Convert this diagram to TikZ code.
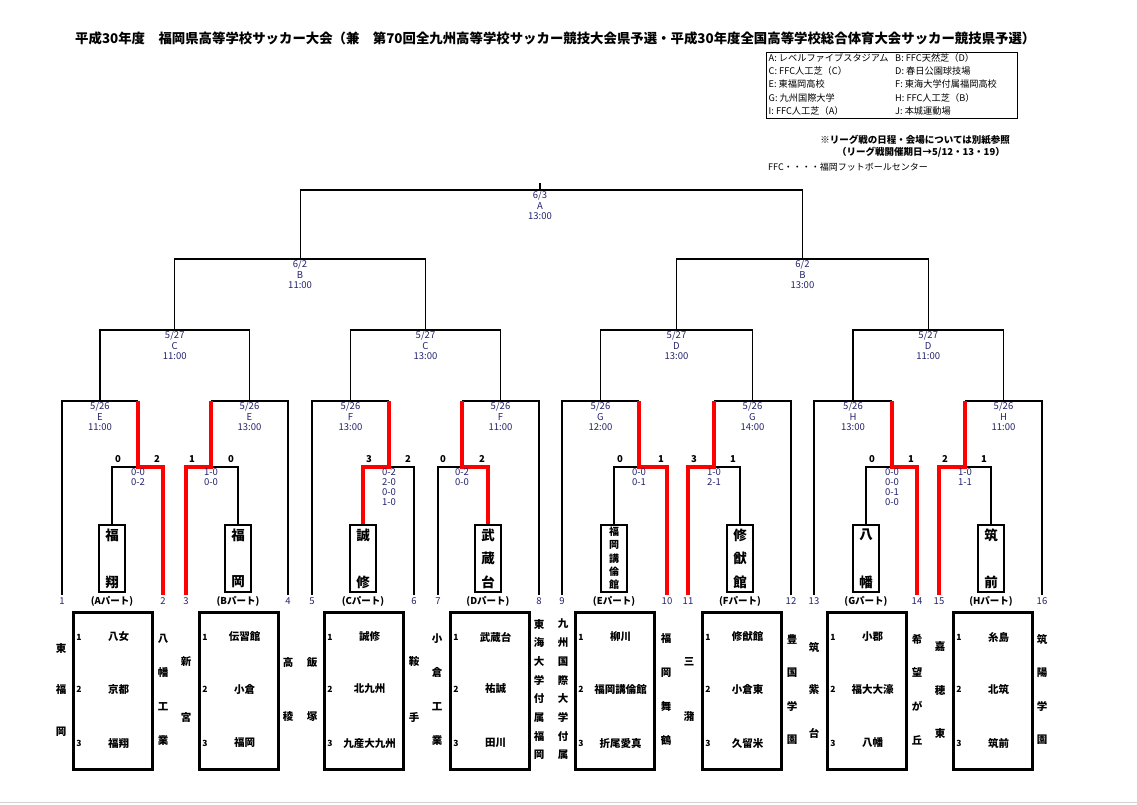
\documentclass[tikz,border=0pt]{standalone}
\usepackage{fontspec}
\setmainfont{Noto Sans CJK JP}
\usepackage{tikz}
\usetikzlibrary{positioning}

\definecolor{navy}{HTML}{23236B}
\definecolor{winred}{HTML}{FF0000}

\tikzset{
  bracket/.style={line width=1.1pt},
  winline/.style={line width=4pt, winred, line join=miter},
  matchlbl/.style={below, inner sep=1pt, align=center, text=navy, font=\fontsize{9.5}{10.5}\selectfont},
  detail/.style={below, inner sep=1pt, align=center, text=navy, font=\fontsize{9.5}{10}\selectfont},
  scorelbl/.style={inner sep=0pt, font=\bfseries\fontsize{9.5}{10}\selectfont},
  namebox/.style={draw, line width=2.6pt, minimum width=26pt, minimum height=67pt, inner sep=0pt},
  boxchar/.style={inner sep=0pt, font=\bfseries\fontsize{13.5}{13.5}\selectfont},
  smallchar/.style={inner sep=0pt, font=\bfseries\fontsize{10}{10}\selectfont},
  slotnum/.style={inner sep=0pt, text=navy, font=\fontsize{9.5}{10}\selectfont},
  partlbl/.style={inner sep=0pt, font=\bfseries\fontsize{9.5}{10}\selectfont},
  grpbox/.style={draw, line width=2.6pt, minimum width=79pt, minimum height=157pt, inner sep=0pt, anchor=north west},
  grpnum/.style={inner sep=0pt, font=\bfseries\fontsize{8.5}{9}\selectfont},
  grpname/.style={inner sep=0pt, font=\bfseries\fontsize{10.5}{11}\selectfont},
  vtxt/.style={inner sep=0pt, font=\bfseries\fontsize{10.5}{11}\selectfont},
  legtxt/.style={anchor=west, inner sep=0pt, font=\fontsize{9.2}{10}\selectfont},
  notetxt/.style={anchor=east, inner sep=0pt, font=\bfseries\fontsize{9.5}{10}\selectfont},
}
% vertical text: [style] name, x, first y, step, characters
\newcommand\vname[6][vtxt]{%
  \foreach \ch [count=\k from 0] in {#6}{\node[#1] (#2-\k) at (#3,#4+\k*#5) {\ch};}}

\begin{document}
\begin{tikzpicture}[x=1pt,y=-1pt]
\useasboundingbox (0,0) rectangle (1137,804);

% Title
\node[anchor=west, inner sep=0pt, font=\bfseries\fontsize{13.4}{14}\selectfont] (title) at (75,38)
  {平成30年度　福岡県高等学校サッカー大会（兼　第70回全九州高等学校サッカー競技大会県予選・平成30年度全国高等学校総合体育大会サッカー競技県予選）};

% Legend of grounds
\node[draw, line width=0.9pt, anchor=north west, minimum width=251pt, minimum height=66pt, inner sep=0pt] (legend) at (766,52) {};
\foreach \t [count=\i from 0] in {A: レベルファイブスタジアム, C: FFC人工芝（C）, E: 東福岡高校, G: 九州国際大学, I: FFC人工芝（A）}
  \node[legtxt] (legl\i) at (768.5,58+\i*13.2) {\t};
\foreach \t [count=\i from 0] in {B: FFC天然芝（D）, D: 春日公園球技場, F: 東海大学付属福岡高校, H: FFC人工芝（B）, J: 本城運動場}
  \node[legtxt] (legr\i) at (895,58+\i*13.2) {\t};

% Notes
\node[notetxt] (note1) at (1010,140) {※リーグ戦の日程・会場については別紙参照};
\node[notetxt] (note2) at (1005,152) {（リーグ戦開催期日→5/12・13・19）};
\node[legtxt, font=\fontsize{9}{10}\selectfont] (note3) at (768,167) {FFC・・・・福岡フットボールセンター};

% Slots 1-16
\foreach \n/\x in {1/62,2/163,3/186,4/288,5/312,6/414,7/438,8/539,9/562,10/667,11/688,12/791,13/814,14/917,15/939,16/1042}{
  \coordinate (s\n) at (\x,595);
  \node[slotnum] (num\n) at (\x,601) {\n};
}

% League winners (parts A-H)
\foreach \p/\bx/\w/\m in {A/112/138/100,B/238/211/249.5,C/363/389/350.5,D/488/462/500.5,E/614/639/600.5,F/740/714/752.5,G/866/892/853,H/991/965/1003.5}{
  \node[namebox] (bx\p) at (\bx,558.5) {};
  \node[partlbl] (pl\p) at (\bx,601) {(\p パート)};
  \coordinate (j\p) at (\w,467);
  \coordinate (w\p) at (\w,401);
  \coordinate (m\p) at (\m,401);
}
\vname[boxchar]{nA}{112}{535}{47}{福,翔}
\vname[boxchar]{nB}{238}{535}{47}{福,岡}
\vname[boxchar]{nC}{363}{535}{47}{誠,修}
\vname[boxchar]{nD}{488}{535}{23.5}{武,蔵,台}
\vname[smallchar]{nE}{614}{532}{13.25}{福,岡,講,倫,館}
\vname[boxchar]{nF}{740}{535}{23.5}{修,猷,館}
\vname[boxchar]{nG}{866}{535}{47}{八,幡}
\vname[boxchar]{nH}{991}{535}{47}{筑,前}

% Round 1
\foreach \s/\p in {1/A,4/B,5/C,8/D,9/E,12/F,13/G,16/H}
  \draw[bracket] (s\s) |- (w\p);

% Play-offs, winner in red
\foreach \lose/\win/\p in {bxA.north/s2/A,bxB.north/s3/B,s6/bxC.north/C,s7/bxD.north/D,bxE.north/s10/E,bxF.north/s11/F,bxG.north/s14/G,bxH.north/s15/H}{
  \draw[bracket] (\lose) |- (j\p);
  \draw[winline] (\win) |- (j\p) -- (w\p);
}

% Scores of play-offs
\foreach \x/\v [count=\i] in {118/0,157/2,192/1,231/0,369/3,408/2,443/0,482/2,620/0,661/1,694/3,733/1,872/0,911/1,945/2,984/1}
  \node[scorelbl] (sc\i) at (\x,459) {\v};
\node[detail] (dA) at (jA) {0-0\\0-2};
\node[detail] (dB) at (jB) {1-0\\0-0};
\node[detail] (dC) at (jC) {0-2\\2-0\\0-0\\1-0};
\node[detail] (dD) at (jD) {0-2\\0-0};
\node[detail] (dE) at (jE) {0-0\\0-1};
\node[detail] (dF) at (jF) {1-0\\2-1};
\node[detail] (dG) at (jG) {0-0\\0-0\\0-1\\0-0};
\node[detail] (dH) at (jH) {1-0\\1-1};

% Upper rounds
\coordinate (c1) at (174.75,330);
\coordinate (c2) at (425.5,330);
\coordinate (c3) at (676.5,330);
\coordinate (c4) at (928.25,330);
\coordinate (b1) at (300.1,259);
\coordinate (b2) at (802.4,259);
\coordinate (fin) at (540,190);
\coordinate (champ) at (540,183);
\draw[bracket] (mA) |- (c1) -| (mB);
\draw[bracket] (mC) |- (c2) -| (mD);
\draw[bracket] (mE) |- (c3) -| (mF);
\draw[bracket] (mG) |- (c4) -| (mH);
\draw[bracket] (c1) |- (b1) -| (c2);
\draw[bracket] (c3) |- (b2) -| (c4);
\draw[bracket] (b1) |- (fin) -| (b2);
\draw[bracket] (fin) -- (champ);

% Dates, grounds, kick-off
\foreach \p/\v/\t in {A/E/11:00,B/E/13:00,C/F/13:00,D/F/11:00,E/G/12:00,F/G/14:00,G/H/13:00,H/H/11:00}
  \node[matchlbl] (lbl\p) at (m\p) {5/26\\\v\\\t};
\node[matchlbl] (lblc1) at (c1) {5/27\\C\\11:00};
\node[matchlbl] (lblc2) at (c2) {5/27\\C\\13:00};
\node[matchlbl] (lblc3) at (c3) {5/27\\D\\13:00};
\node[matchlbl] (lblc4) at (c4) {5/27\\D\\11:00};
\node[matchlbl] (lblb1) at (b1) {6/2\\B\\11:00};
\node[matchlbl] (lblb2) at (b2) {6/2\\B\\13:00};
\node[matchlbl] (lblfin) at (fin) {6/3\\A\\13:00};

% League groups
\foreach \g/\l/\a/\b/\c in {A/72/八女/京都/福翔,B/198/伝習館/小倉/福岡,C/323/誠修/北九州/九産大九州,D/449/武蔵台/祐誠/田川,E/574/柳川/福岡講倫館/折尾愛真,F/701/修猷館/小倉東/久留米,G/826/小郡/福大大濠/八幡,H/952/糸島/北筑/筑前}{
  \node[grpbox] (g\g) at (\l,611) {};
  \node[grpnum] (g\g-n1) at (\l+7,637) {1};
  \node[grpnum] (g\g-n2) at (\l+7,689) {2};
  \node[grpnum] (g\g-n3) at (\l+7,743) {3};
  \node[grpname] (g\g-t1) at (\l+46.5,637) {\a};
  \node[grpname] (g\g-t2) at (\l+46.5,689) {\b};
  \node[grpname] (g\g-t3) at (\l+46.5,743) {\c};
}

% Seeded schools
\vname{t1}{61}{648}{42}{東,福,岡}
\vname{t2}{163}{639}{33.7}{八,幡,工,業}
\vname{t3}{186}{662}{55}{新,宮}
\vname{t4}{288}{662}{55}{高,稜}
\vname{t5}{312}{662}{55}{飯,塚}
\vname{t6}{414}{662}{55}{鞍,手}
\vname{t7}{437}{639}{33.7}{小,倉,工,業}
\vname{t8}{539}{624}{18.7}{東,海,大,学,付,属,福,岡}
\vname{t9}{563}{624}{18.7}{九,州,国,際,大,学,付,属}
\vname{t10}{666}{639}{33.7}{福,岡,舞,鶴}
\vname{t11}{689}{662}{55}{三,潴}
\vname{t12}{792}{639}{33.7}{豊,国,学,園}
\vname{t13}{814}{647}{43}{筑,紫,台}
\vname{t14}{917}{639}{33.7}{希,望,が,丘}
\vname{t15}{940}{647}{43}{嘉,穂,東}
\vname{t16}{1042}{639}{33.7}{筑,陽,学,園}

% page edge
\draw[gray!35, line width=0.8pt] (0,802.5) -- (1137,802.5);
\end{tikzpicture}
\end{document}
